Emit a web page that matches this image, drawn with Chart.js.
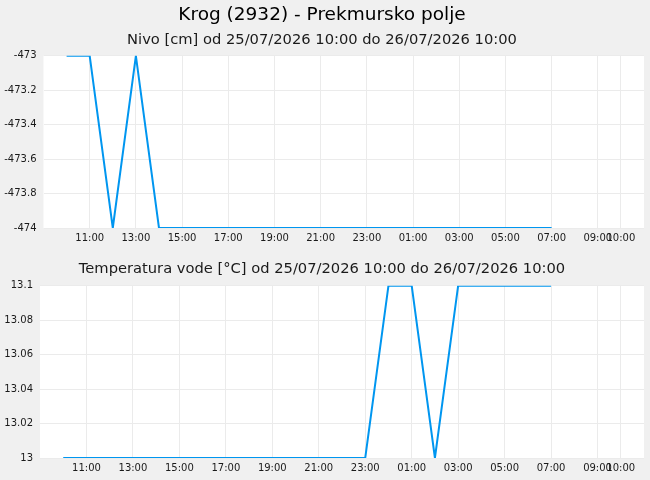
<!DOCTYPE html>
<html lang="sl">
<head>
  <meta charset="UTF-8">
  <title>Krog (2932) - Prekmursko polje</title>
  <script src="https://cdn.jsdelivr.net/npm/chart.js"></script>
  <style>
    body { margin: 0; background: #f0f0f0; }
    .okvir { position: absolute; left: 0; width: 650px; }
    #okvir1 { top: 0; height: 250px; }
    #okvir2 { top: 250px; height: 230px; }
  </style>
</head>
<body>
  <div class="okvir" id="okvir1"><canvas id="graf_nivo"></canvas></div>
  <div class="okvir" id="okvir2"><canvas id="graf_temp"></canvas></div>

<script>
// ure od 25/07/2026 10:00 (0 = 10:00)
var ure = [0, 1, 2, 3, 4, 5, 6, 7, 8, 9, 10, 11, 12, 13, 14, 15, 16, 17, 18, 19, 20, 21]
var nivo = [-473, -473, -474, -473, -474, -474, -474, -474, -474, -474, -474,
            -474, -474, -474, -474, -474, -474, -474, -474, -474, -474, -474]
var temperatura = [13, 13, 13, 13, 13, 13, 13, 13, 13, 13, 13,
                   13, 13, 13, 13.1, 13.1, 13, 13.1, 13.1, 13.1, 13.1, 13.1]

var tickUre = [1, 3, 5, 7, 9, 11, 13, 15, 17, 19, 21, 23, 24]
var tickOznake = ['11:00', '13:00', '15:00', '17:00', '19:00', '21:00', '23:00',
                  '01:00', '03:00', '05:00', '07:00', '09:00', '10:00']

Chart.defaults.font.family = "'DejaVu Sans', sans-serif"
Chart.defaults.color = '#1a1a1a'

var belaPodlaga = {
  id: 'belaPodlaga',
  beforeDraw: function (chart) {
    var a = chart.chartArea
    var ctx = chart.ctx
    ctx.save()
    ctx.fillStyle = '#ffffff'
    ctx.fillRect(a.left, a.top, a.right - a.left, a.bottom - a.top)
    ctx.restore()
  }
}

function narediGraf(id, podatki, yMin, yMax, korak, sirinaY, naslov) {
  var tocke = []
  for (var i = 0; i < ure.length; i++) {
    tocke.push({ x: ure[i], y: podatki[i] })
  }
  return new Chart(document.getElementById(id), {
    type: 'line',
    data: {
      datasets: [{
        data: tocke,
        borderColor: '#0096f0',
        borderWidth: 2,
        pointRadius: 0,
        tension: 0,
        fill: false
      }]
    },
    options: {
      responsive: true,
      maintainAspectRatio: false,
      animation: false,
      layout: { padding: { left: 0, right: 6, top: 0, bottom: 0 } },
      plugins: {
        legend: { display: false },
        tooltip: { enabled: false },
        title: naslov.glavni ? {
          display: true,
          text: naslov.glavni,
          color: '#000',
          font: { size: 18.5, weight: 'normal' },
          padding: { top: 4, bottom: 0 }
        } : { display: false },
        subtitle: {
          display: true,
          text: naslov.pod,
          color: '#1a1a1a',
          font: { size: 14.7, weight: 'normal' },
          padding: naslov.glavni ? { top: 5, bottom: 7 } : { top: 10, bottom: 8 }
        }
      },
      scales: {
        x: {
          type: 'linear',
          min: -1,
          max: 25,
          afterBuildTicks: function (scale) {
            scale.ticks = tickUre.map(function (v) { return { value: v } })
          },
          afterFit: function (scale) { scale.height = 22 },
          ticks: {
            autoSkip: false,
            maxRotation: 0,
            padding: 4,
            font: { size: 10 },
            callback: function (v) {
              var k = tickUre.indexOf(v)
              return k >= 0 ? tickOznake[k] : ''
            }
          },
          grid: { color: '#ebebeb', drawTicks: false },
          border: { display: false }
        },
        y: {
          min: yMin,
          max: yMax,
          afterFit: function (scale) { scale.width = sirinaY },
          ticks: {
            stepSize: korak,
            padding: 7,
            font: { size: 10 },
            callback: function (v) { return String(Math.round(v * 1000) / 1000) }
          },
          grid: { color: '#ebebeb', drawTicks: false },
          border: { display: false }
        }
      }
    },
    plugins: [belaPodlaga]
  })
}

narediGraf('graf_nivo', nivo, -474, -473, 0.2, 43.5, {
  glavni: 'Krog (2932) - Prekmursko polje',
  pod: 'Nivo [cm] od 25/07/2026 10:00 do 26/07/2026 10:00'
})

narediGraf('graf_temp', temperatura, 13, 13.1, 0.02, 40, {
  glavni: null,
  pod: 'Temperatura vode [°C] od 25/07/2026 10:00 do 26/07/2026 10:00'
})
</script>
</body>
</html>
